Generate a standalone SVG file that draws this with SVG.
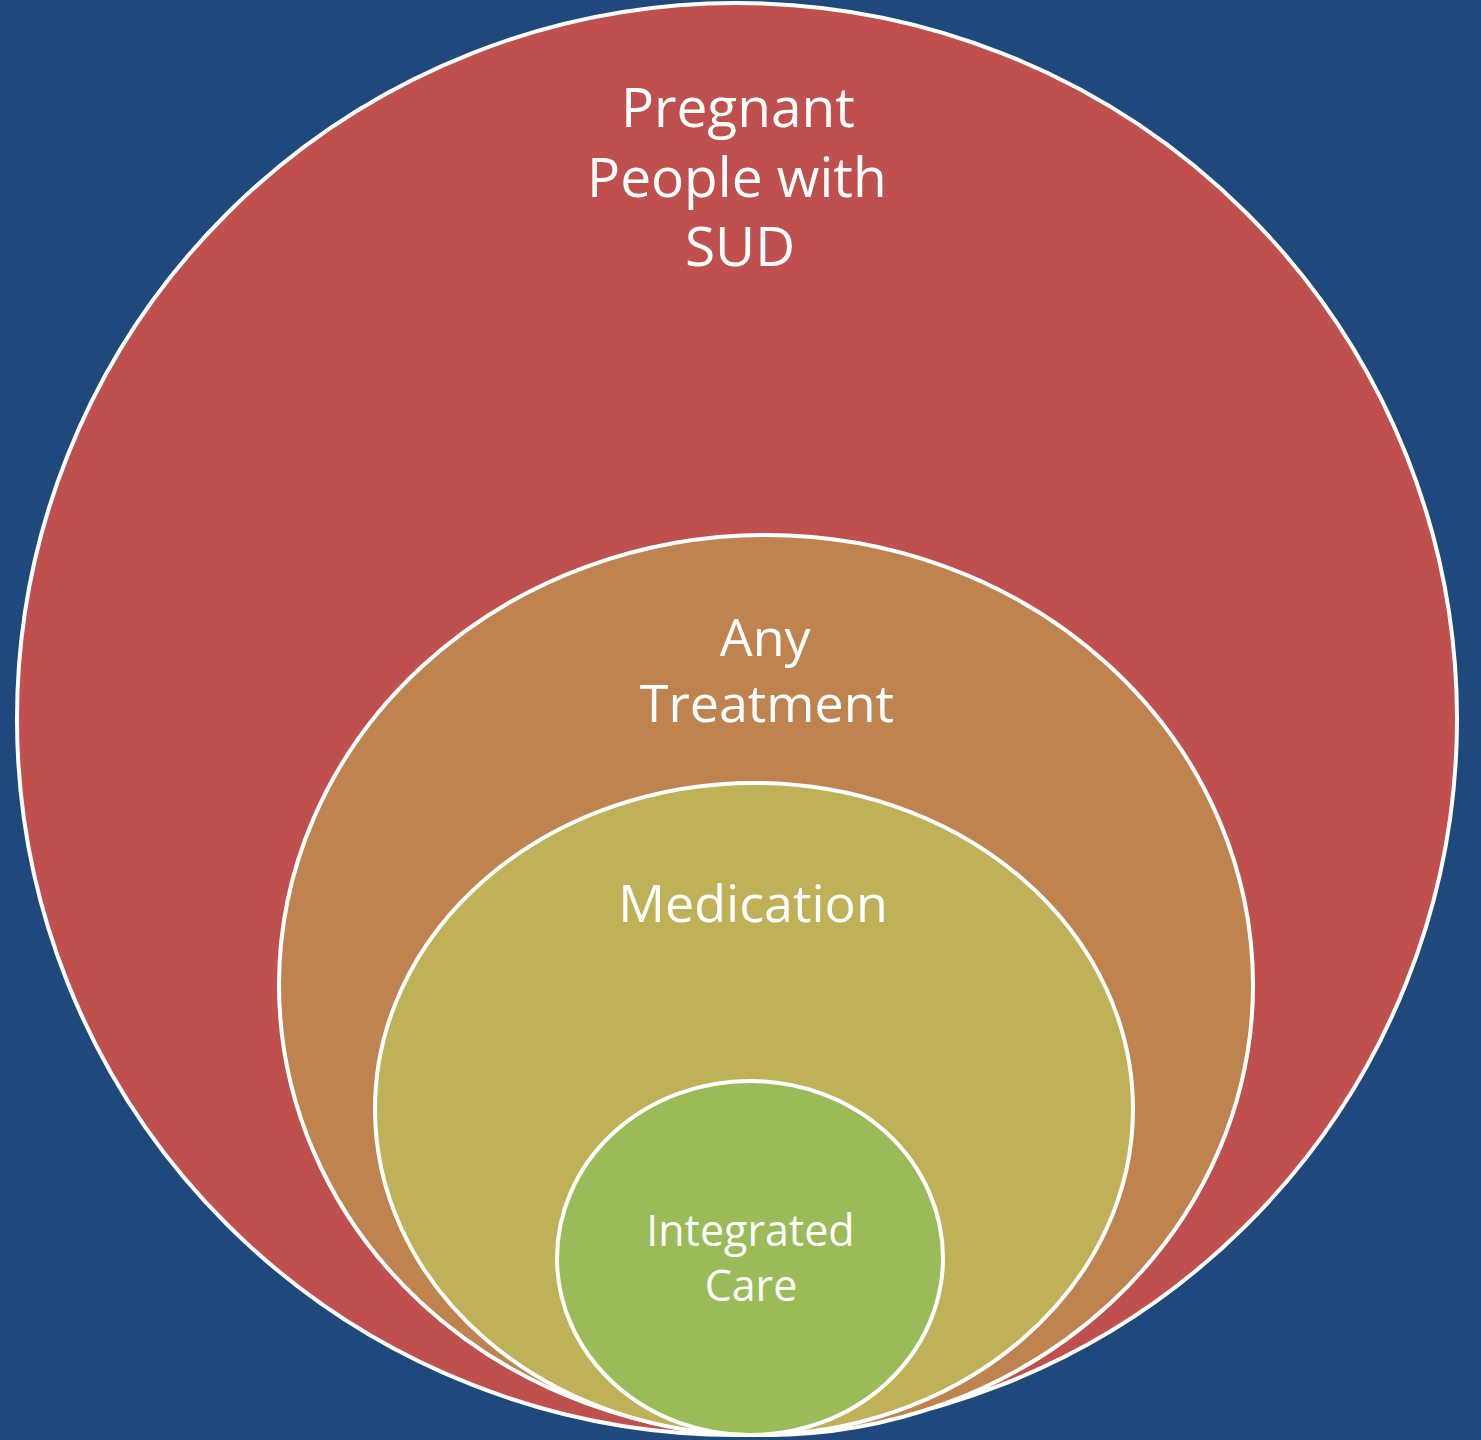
<svg xmlns="http://www.w3.org/2000/svg" width="1481" height="1440" viewBox="0 0 1481 1440">
  <style>
    .ring { stroke: #FFFFFF; stroke-width: 4; }
    .label { fill: #FFFFFF; font-family: "Open Sans", "Liberation Sans", sans-serif; text-anchor: middle; }
  </style>
  <rect x="0" y="0" width="1481" height="1440" fill="#1F497D"/>
  <g id="pregnant-people-with-sud">
    <ellipse class="ring" cx="737" cy="719" rx="720" ry="716" fill="#C0504D"/>
    <text class="label" font-size="55">
      <tspan x="745" y="127">Pregnant</tspan>
      <tspan x="744" y="197">People with</tspan>
      <tspan x="740" y="266">SUD</tspan>
    </text>
  </g>
  <g id="any-treatment">
    <ellipse class="ring" cx="766" cy="985" rx="487" ry="450" fill="#BF8350"/>
    <text class="label" font-size="52">
      <tspan x="772" y="656">Any</tspan>
      <tspan x="767" y="722">Treatment</tspan>
    </text>
  </g>
  <g id="medication">
    <ellipse class="ring" cx="754" cy="1109" rx="379" ry="326" fill="#BFB158"/>
    <text class="label" font-size="52" x="753" y="922">Medication</text>
  </g>
  <g id="integrated-care">
    <ellipse class="ring" cx="750" cy="1258" rx="193" ry="177" fill="#9BBB59"/>
    <text class="label" font-size="43">
      <tspan x="756" y="1246">Integrated</tspan>
      <tspan x="751" y="1301">Care</tspan>
    </text>
  </g>
  <g id="connectors"/>
</svg>
